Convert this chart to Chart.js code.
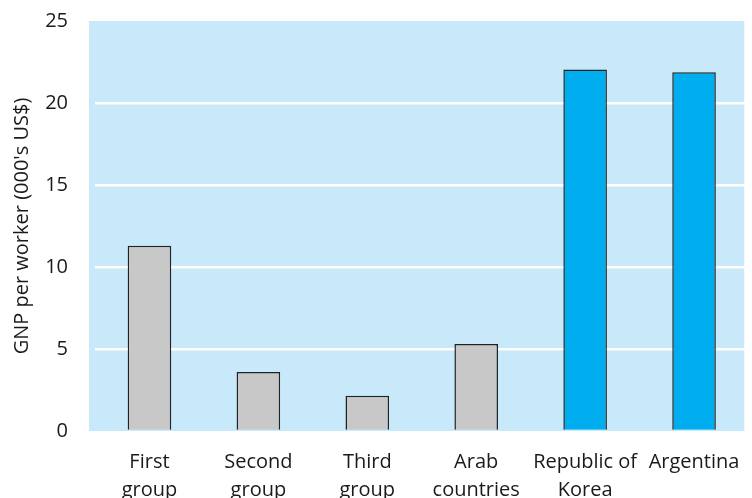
<!DOCTYPE html>
<html>
<head>
<meta charset="utf-8">
<script src="https://cdn.jsdelivr.net/npm/chart.js@4"></script>
<style>
  body { margin: 0; background: #fff; }
  #wrap { width: 752px; height: 498px; position: relative; overflow: hidden; }
  #inner { position: absolute; left: 0; top: -20px; width: 752px; height: 518px; }
</style>
</head>
<body>
<div id="wrap"><div id="inner"><canvas id="chart"></canvas></div></div>
<script>
// データ
const categories = [
  ["First", "group"],
  ["Second", "group"],
  ["Third", "group"],
  ["Arab", "countries"],
  ["Republic of", "Korea"],
  ["Argentina"],
];
const gnpValues = [11.3, 3.6, 2.15, 5.3, 22.05, 21.87];
const barColors = ["#c8c8c9", "#c8c8c9", "#c8c8c9", "#c8c8c9", "#00aeef", "#00aeef"];
const yTicks = [0, 5, 10, 15, 20, 25];

// プロット領域の背景（左に少しはみ出し、右端は少し手前で切る）
const plotBackground = {
  id: "plotBackground",
  beforeDraw(chart) {
    const { ctx, chartArea } = chart;
    ctx.save();
    ctx.fillStyle = "#c7e9f9";
    ctx.fillRect(chartArea.left - 6, chartArea.top, chartArea.right - 4 - (chartArea.left - 6), chartArea.bottom - chartArea.top);
    ctx.restore();
  },
  beforeDatasetsDraw(chart) {
    // 右端のグリッド線のはみ出しを消す
    const { ctx, chartArea, width } = chart;
    ctx.save();
    ctx.fillStyle = "#ffffff";
    ctx.fillRect(chartArea.right - 4, chartArea.top - 2, width - chartArea.right + 4, chartArea.bottom - chartArea.top + 4);
    ctx.restore();
  },
};

const font = { family: "'Open Sans', sans-serif", size: 20, lineHeight: 1.4 };

new Chart(document.getElementById("chart"), {
  type: "bar",
  data: {
    labels: categories,
    datasets: [
      {
        data: gnpValues,
        backgroundColor: barColors,
        borderColor: "#222222",
        borderWidth: 1.5,
        barPercentage: 0.4,
        categoryPercentage: 1,
      },
    ],
  },
  options: {
    responsive: true,
    maintainAspectRatio: false,
    animation: false,
    layout: { padding: { top: 0, right: 3.5, bottom: 0, left: 0 } },
    plugins: {
      legend: { display: false },
      tooltip: { enabled: false },
    },
    scales: {
      x: {
        afterFit: (axis) => {
          axis.height = 67;
        },
        grid: { display: false },
        border: { display: false },
        ticks: {
          color: "#1a1a1a",
          font: font,
          padding: 9,
          maxRotation: 0,
          autoSkip: false,
        },
      },
      y: {
        min: 0,
        max: 25,
        afterBuildTicks: (axis) => {
          axis.ticks = yTicks.map((v) => ({ value: v }));
        },
        afterFit: (axis) => {
          axis.width = 95;
        },
        grid: {
          color: (c) => (c.tick && (c.tick.value === 0 || c.tick.value === 25) ? "rgba(0,0,0,0)" : "#ffffff"),
          lineWidth: 2.5,
          drawTicks: false,
        },
        border: { display: false },
        ticks: {
          color: "#1a1a1a",
          font: font,
          padding: 27,
        },
        title: {
          display: true,
          text: "GNP per worker (000's US$)",
          color: "#1a1a1a",
          font: font,
          padding: { top: 8, bottom: 4 },
        },
      },
    },
  },
  plugins: [plotBackground],
});
</script>
</body>
</html>
